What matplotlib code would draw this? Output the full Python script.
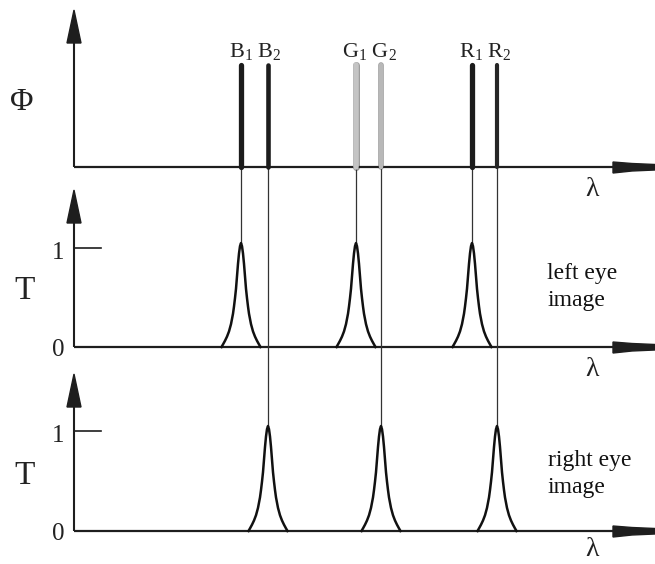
import matplotlib
matplotlib.use("Agg")
import matplotlib.pyplot as plt
from matplotlib.patches import Polygon

plt.rcParams['font.family'] = ['Liberation Serif', 'DejaVu Serif']
plt.rcParams['mathtext.fontset'] = 'stix'

# spectral positions of the six primaries (arbitrary wavelength units along the axis)
names = ["B", "G", "R"]
lam_left = [241, 356, 472]    # B1, G1, R1 -> left eye filter
lam_right = [268, 381, 497]   # B2, G2, R2 -> right eye filter
phi_left = [1.0, 1.0, 1.0]
phi_right = [1.0, 1.0, 1.0]
col_left = ["#1c1c1c", "#c4c4c4", "#1c1c1c"]
col_right = ["#1c1c1c", "#b8b8b8", "#262626"]
width_left = [3.8, 4.0, 3.8]
width_right = [3.3, 3.2, 3.0]

# filter transmission: peak value and profile (offset from centre, relative height)
t_peak = 1.05
prof_dx = [-19.5, -18, -16, -14, -12, -10, -8, -7, -6, -5, -4, -3, -2, -1, 0,
           1, 2, 3, 4, 5, 6, 7, 8, 10, 12, 14, 16, 18, 19.5]
prof_t = [0.0, 0.025, 0.06, 0.10, 0.15, 0.22, 0.32, 0.39, 0.47, 0.56, 0.68, 0.80, 0.90, 0.97, 1.0,
          0.97, 0.90, 0.80, 0.68, 0.56, 0.47, 0.39, 0.32, 0.22, 0.15, 0.10, 0.06, 0.025, 0.0]

# layout (pixel-like coordinates)
x_axis = 74
base = [167, 347, 531]
scale = [102, 99, 100]
ink = "#1e1e1e"

fig = plt.figure(figsize=(6.55, 5.64), dpi=100)
ax = fig.add_axes([0, 0, 1, 1])
ax.set_xlim(0, 655)
ax.set_ylim(564, 0)
ax.axis("off")


def y_of(panel, v):
    return base[panel] - v * scale[panel]


# axes with arrows
for p in range(3):
    y0 = base[p]
    tip = y0 - 157
    ax.plot([x_axis, x_axis], [y0, tip + 30], color=ink, lw=1.5, solid_capstyle="butt")
    ax.add_patch(Polygon([(x_axis, tip), (x_axis - 7, tip + 33), (x_axis + 7, tip + 33)],
                         closed=True, color=ink))
    ax.plot([x_axis, 613], [y0, y0], color=ink, lw=1.6, solid_capstyle="butt")
    ax.add_patch(Polygon([(613, y0 - 5), (632, y0 - 3.5), (655, y0 - 2.5), (655, y0 + 3),
                          (632, y0 + 4), (613, y0 + 6)], closed=True, color=ink))

# thin guide lines from the source lines to the filter peaks
for i in range(3):
    ax.plot([lam_left[i], lam_left[i]], [y_of(0, phi_left[i]), y_of(1, t_peak)],
            color="#333333", lw=0.9)
    ax.plot([lam_right[i], lam_right[i]], [y_of(0, phi_right[i]), y_of(2, t_peak)],
            color="#333333", lw=0.9)

# source spectrum lines
for i in range(3):
    ax.plot([lam_left[i], lam_left[i]], [base[0], y_of(0, phi_left[i])],
            color=col_left[i], lw=width_left[i], solid_capstyle="round")
    ax.plot([lam_right[i], lam_right[i]], [base[0], y_of(0, phi_right[i])],
            color=col_right[i], lw=width_right[i], solid_capstyle="round")
    if i == 1:
        ax.plot([lam_left[i], lam_left[i]], [base[0], y_of(0, phi_left[i])],
                color="#9a9a9a", lw=width_left[i] + 1.0, solid_capstyle="round", zorder=1)
        ax.plot([lam_right[i], lam_right[i]], [base[0], y_of(0, phi_right[i])],
                color="#9a9a9a", lw=width_right[i] + 0.8, solid_capstyle="round", zorder=1)
    xc = (lam_left[i] + lam_right[i]) / 2
    ax.text(xc + 1, 57, r"$\mathregular{%s_1\ %s_2}$" % (names[i], names[i]),
            ha="center", va="baseline", fontsize=16, color="#222222")

# filter transmission peaks
for p, centres in ((1, lam_left), (2, lam_right)):
    for c in centres:
        xs = [c + d for d in prof_dx]
        ys = [y_of(p, t * t_peak) for t in prof_t]
        ax.plot(xs, ys, color="#111111", lw=1.8, solid_joinstyle="round")
    ax.plot([x_axis, x_axis + 27], [y_of(p, 1), y_of(p, 1)], color=ink, lw=1.2)
    ax.text(58, y_of(p, 1) + 5, "1", ha="center", va="center", fontsize=18, color="#222222")
    ax.text(58, base[p] + 3, "0", ha="center", va="center", fontsize=18, color="#222222")

# axis labels
ax.text(22, 102, "Φ", ha="center", va="center", fontsize=23, color="#222222")
ax.text(25, 291, "T", ha="center", va="center", fontsize=24, color="#222222")
ax.text(25, 476, "T", ha="center", va="center", fontsize=24, color="#222222")
for y in (190, 370, 550):
    ax.text(592, y, "λ", ha="center", va="center", fontsize=20, color="#222222")

ax.text(547, 306, "left eye\nimage", ha="left", va="baseline", fontsize=17,
        linespacing=1.4, color="#111111")
ax.text(548, 493, "right eye\nimage", ha="left", va="baseline", fontsize=17,
        linespacing=1.4, color="#111111")

fig.savefig("out.png", dpi=100)
